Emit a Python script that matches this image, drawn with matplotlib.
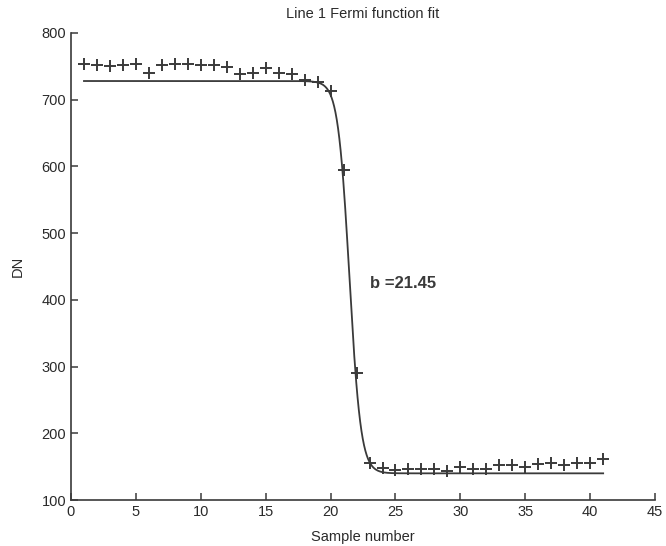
import numpy as np
import matplotlib.pyplot as plt

plt.rcParams['font.family'] = ['Liberation Sans', 'DejaVu Sans']

# DN profile along line 1
sample = np.arange(1, 42)
dn = [753, 752, 751, 752, 754, 740, 752, 753, 753, 752,
      752, 749, 738, 740, 747, 740, 738, 729, 727, 713,
      595, 290, 155, 148, 145, 147, 147, 147, 143, 149,
      147, 147, 152, 152, 150, 154, 155, 152, 155, 155, 162]

# Fermi function parameters: dn = a/(1+exp((x-b)/c)) + d
a_fit = 588.0
b_fit = 21.45
c_fit = 0.44
d_fit = 140.0

ink = '#3a3a3a'

fig = plt.figure(figsize=(6.66, 5.46), dpi=100)
ax = fig.add_axes([0.1066, 0.0842, 0.877, 0.8554])

xx = np.linspace(1, 41, 800)
fermi = a_fit / (1 + np.exp((xx - b_fit) / c_fit)) + d_fit
ax.plot(xx, fermi, color=ink, lw=1.3)
ax.plot(sample, dn, '+', color=ink, ms=9, mew=1.4)

ax.text(23.0, 425, 'b =%.2f' % b_fit, fontsize=12, fontweight='bold',
        color=ink, va='center')

ax.set_xlim(0, 45)
ax.set_ylim(100, 800)
ax.set_xticks(np.arange(0, 46, 5))
ax.set_yticks(np.arange(100, 801, 100))
ax.spines['top'].set_visible(False)
ax.spines['right'].set_visible(False)
for s in ('left', 'bottom'):
    ax.spines[s].set_color(ink)
    ax.spines[s].set_linewidth(1.2)
ax.tick_params(direction='in', length=5, width=1.1, colors=ink,
               labelsize=10.5, labelcolor='#2a2a2a')

ax.set_title('Line 1 Fermi function fit', fontsize=10.5, color='#2a2a2a', pad=11)
ax.set_xlabel('Sample number', fontsize=10.5, color='#2a2a2a', labelpad=8)
ax.set_ylabel('DN', fontsize=10.5, color='#2a2a2a', labelpad=12)

fig.savefig('out.png', dpi=100)
